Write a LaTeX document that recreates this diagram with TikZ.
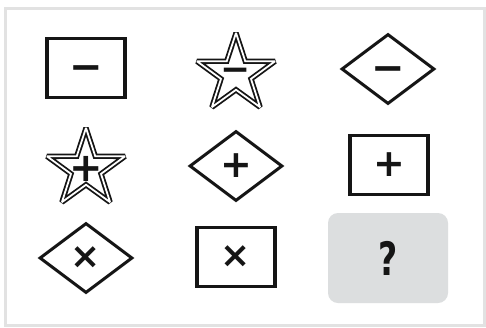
\documentclass[tikz,border=0pt]{standalone}
\usepackage{fontspec}
\usepackage{xcolor}
\usepackage{tikz}
\usetikzlibrary{shapes.geometric}
\newfontfamily\signfont{DejaVu Sans}
\definecolor{Ink}{HTML}{151515}
\definecolor{Frame}{HTML}{E2E2E2}
\definecolor{Slot}{HTML}{DCDEDF}

\begin{document}
\begin{tikzpicture}[x=1pt,y=-1pt,
    box/.style={draw=Ink,line width=3.6pt,minimum width=78pt,minimum height=59pt,inner sep=0pt},
    gem/.style={draw=Ink,diamond,line width=3pt,minimum width=93pt,minimum height=70pt,inner sep=0pt},
    starbox/.style={draw=Ink,double=white,double distance=1.8pt,line width=1.8pt,miter limit=2.5,
      star,star points=5,star point ratio=2.6,minimum size=82pt,inner sep=0pt},
    sign/.style={text=Ink,font=\signfont\bfseries\fontsize{#1}{#1}\selectfont,inner sep=0pt},
    sign/.default=38,
    slot/.style={fill=Slot,rounded corners=10pt,minimum width=120pt,minimum height=90pt}
]
\useasboundingbox[fill=white] (0,0) rectangle (486,327);
\draw[Frame,line width=3pt] (5,8) rectangle (484,325);
% row 1
\node[box] (r1) at (86,68) {};
\node[starbox] (s1) at (236,74) {};
\node[gem] (d1) at (388,69) {};
% row 2
\node[starbox] (s2) at (86,169) {};
\node[gem] (d2) at (236,166) {};
\node[box] (r2) at (389,165) {};
% row 3
\node[gem] (d3) at (86,258) {};
\node[box] (r3) at (236,257) {};
\node[slot] (q) at (388,258) {};
% signs (the minus box sits on its baseline, so it is pulled down)
\node[sign=40] (m1) at ([yshift=-5pt]r1.center) {−};
\node[sign=36] (m2) at ([yshift=-1pt]s1.center) {−};
\node[sign=40] (m3) at ([yshift=-5pt]d1.center) {−};
\node[sign=40] (p1) at (s2) {+};
\node[sign] (p2) at (d2) {+};
\node[sign] (p3) at (r2) {+};
\node[sign=36] (x1) at (d3) {×};
\node[sign=36] (x2) at (r3) {×};
\node[sign=46] (qm) at (q) {\scalebox{0.72}[1]{?}};
\end{tikzpicture}
\end{document}
